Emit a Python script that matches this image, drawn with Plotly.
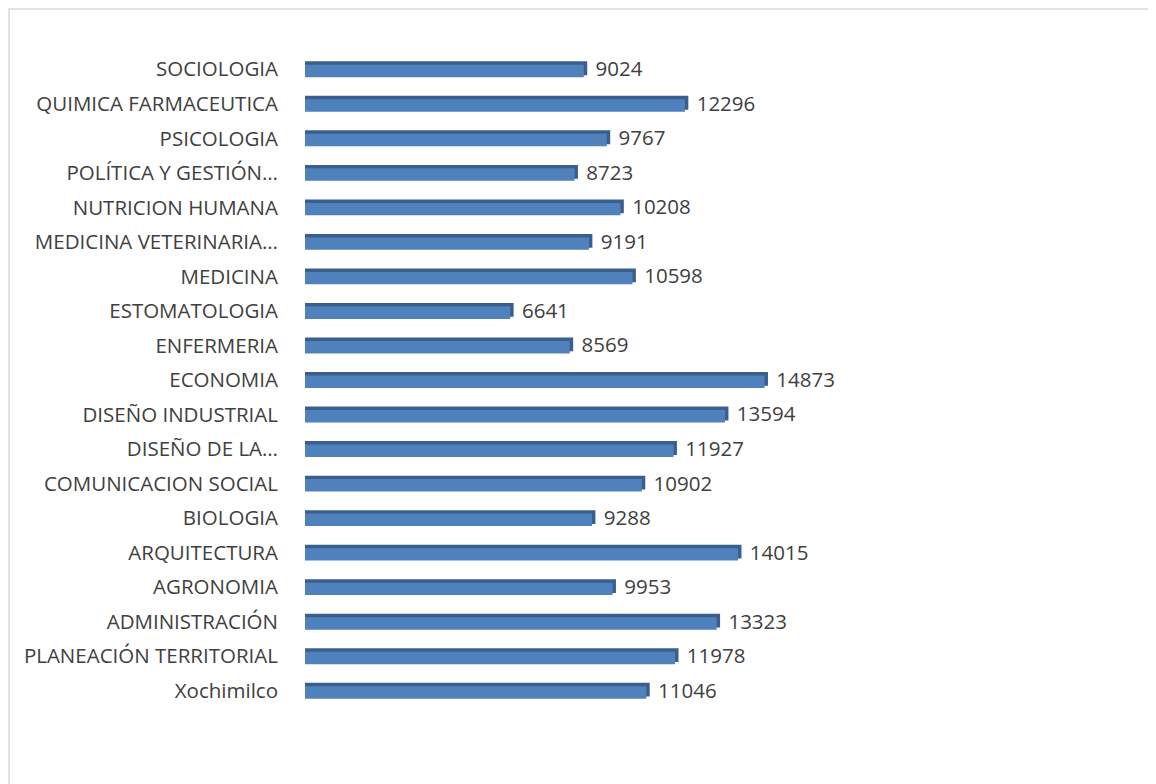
import plotly.graph_objects as go

categories = [
    "Xochimilco", "PLANEACIÓN TERRITORIAL", "ADMINISTRACIÓN", "AGRONOMIA",
    "ARQUITECTURA", "BIOLOGIA", "COMUNICACION SOCIAL", "DISEÑO DE LA…",
    "DISEÑO INDUSTRIAL", "ECONOMIA", "ENFERMERIA", "ESTOMATOLOGIA",
    "MEDICINA", "MEDICINA VETERINARIA…", "NUTRICION HUMANA",
    "POLÍTICA Y GESTIÓN…", "PSICOLOGIA", "QUIMICA FARMACEUTICA", "SOCIOLOGIA",
]
values = [
    11046, 11978, 13323, 9953, 14015, 9288, 10902, 11927, 13594, 14873,
    8569, 6641, 10598, 9191, 10208, 8723, 9767, 12296, 9024,
]

DEPTH = 110  # 3D side-face depth in value units (visual only)
TXT = "#404040"
FONT = "Open Sans"
FS = 20.5

PLOT_W = 781
PLOT_H = 656
ML, MT = 297, 44

fig = go.Figure()
# dark "top / side" face of the pseudo-3D bars
fig.add_trace(go.Bar(
    y=categories, x=[v + DEPTH for v in values], orientation="h",
    width=0.40, offset=-0.17,
    marker=dict(color="#3a5f8e", line=dict(width=0)),
    text=[f" {v}" for v in values], textposition="outside",
    constraintext="none",
    textfont=dict(family=FONT, size=FS, color=TXT),
    cliponaxis=False, hoverinfo="skip", showlegend=False,
))
# front face
fig.add_trace(go.Bar(
    y=categories, x=values, orientation="h",
    width=0.36, offset=-0.23,
    marker=dict(color="#4f81bd", line=dict(width=0)),
    showlegend=False,
))

fig.update_layout(
    width=1156, height=784,
    barmode="overlay",
    paper_bgcolor="white", plot_bgcolor="white",
    margin=dict(l=ML, r=1156 - ML - PLOT_W, t=MT, b=784 - MT - PLOT_H),
    font=dict(family=FONT, size=FS, color=TXT),
    xaxis=dict(range=[0, PLOT_W / 0.0309], visible=False, showgrid=False,
               zeroline=False),
    yaxis=dict(
        categoryorder="array", categoryarray=categories,
        showgrid=False, zeroline=False, showline=False, ticks="",
        ticklabelstandoff=26, automargin=False,
        tickfont=dict(family=FONT, size=FS, color=TXT),
    ),
    shapes=[dict(
        type="rect", xref="paper", yref="paper",
        x0=-(ML - 1) / PLOT_W, x1=1.3, y0=-0.3, y1=1 + (MT - 1) / PLOT_H,
        line=dict(color="#d9d9d9", width=1.5), fillcolor="rgba(0,0,0,0)",
        layer="below",
    )],
)

fig.write_html("out.html")
